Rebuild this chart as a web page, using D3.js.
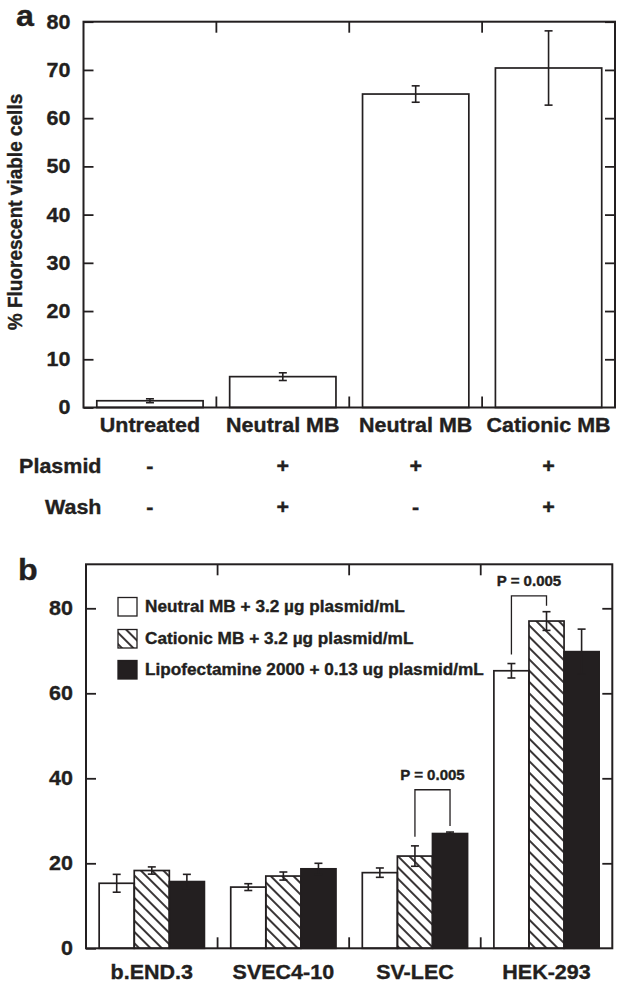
<!DOCTYPE html>
<html><head><meta charset="utf-8">
<script src="https://cdn.jsdelivr.net/npm/d3@7"></script>
<style>
html,body{margin:0;padding:0;background:#fff;}
svg{display:block;}
text{font-family:"Liberation Sans",Arial,Helvetica,sans-serif;font-weight:bold;fill:#231f20;stroke:#231f20;stroke-width:0.35px;}
</style></head>
<body>
<svg id="chart" width="624" height="988"></svg>
<script>
// ---------- Panel a data ----------
const catsA = ["Untreated", "Neutral MB", "Neutral MB", "Cationic MB"];
const valsA = [1.4, 6.4, 65.0, 70.4];
const errA = [0.4, 0.8, 1.7, 7.7];
const plasmidRow = ["-", "+", "+", "+"];
const washRow = ["-", "+", "-", "+"];
const ticksA = [0, 10, 20, 30, 40, 50, 60, 70, 80];

// ---------- Panel b data ----------
const catsB = ["b.END.3", "SVEC4-10", "SV-LEC", "HEK-293"];
const seriesB = ["Neutral MB + 3.2 \u00b5g plasmid/mL", "Cationic MB + 3.2 \u00b5g plasmid/mL", "Lipofectamine 2000 + 0.13 ug plasmid/mL"];
const neutralB = [15.3, 14.4, 17.8, 65.3];
const neutralErr = [2.1, 0.8, 1.1, 1.7];
const cationicB = [18.3, 17.0, 21.7, 77.0];
const cationicErr = [0.85, 0.95, 2.4, 2.2];
const lipoB = [15.7, 18.7, 27.0, 69.8];
const lipoErr = [1.7, 1.3, 0.35, 5.3];
const ticksB = [0, 20, 40, 60, 80];
// significance brackets: category, series pair, bracket level (value), label
const pCats = ["SV-LEC", "HEK-293"];
const pPairs = [[1, 2], [0, 1]];
const pLevels = [37.3, 82.9];
const pLabels = ["P = 0.005", "P = 0.005"];

const INK = "#231f20";
const SX = 1.075; // horizontal stretch of lettering in the reference
const svg = d3.select("#chart");

const defs = svg.append("defs");
defs.append("pattern").attr("id", "hatch").attr("patternUnits", "userSpaceOnUse")
  .attr("width", 8).attr("height", 8).attr("patternTransform", "rotate(-45)")
  .append("line").attr("x1", 4).attr("y1", -1).attr("x2", 4).attr("y2", 9)
  .attr("stroke", INK).attr("stroke-width", 1.8);

function txt(g, x, y, s, size, anchor) {
  return g.append("text")
    .attr("transform", `translate(${x},${y}) scale(${SX},1)`)
    .attr("text-anchor", anchor || "middle")
    .style("font-size", size + "px")
    .text(s);
}

function errorBar(g, x, yScale, v, e, cap, color) {
  const y1 = yScale(v + e), y0 = yScale(v - e);
  g.append("line").attr("x1", x).attr("x2", x).attr("y1", y1).attr("y2", y0)
    .attr("stroke", color || INK).attr("stroke-width", 1.6);
  [y1, y0].forEach(yy => g.append("line").attr("x1", x - cap / 2).attr("x2", x + cap / 2)
    .attr("y1", yy).attr("y2", yy).attr("stroke", color || INK).attr("stroke-width", 1.6));
}

function frameAndTicks(g, x, y, ticks) {
  const [x0, x1] = x.range();
  const [yb, yt] = y.range();
  const left = g.append("g").attr("transform", `translate(${x0},0)`)
    .call(d3.axisLeft(y).tickValues(ticks).tickSizeInner(-10).tickSizeOuter(0).tickPadding(13));
  left.select(".domain").remove();
  left.selectAll(".tick line").attr("stroke", INK).attr("stroke-width", 1.8);
  left.selectAll(".tick text").attr("fill", INK).style("font-size", "20px")
    .style("font-family", "'Liberation Sans',Arial,sans-serif").style("font-weight", "bold")
    .attr("transform", `scale(${SX},1)`).attr("x", -13 / SX);
  const right = g.append("g").attr("transform", `translate(${x1},0)`)
    .call(d3.axisRight(y).tickValues(ticks.filter(t => t > 0)).tickSizeInner(-10).tickSizeOuter(0).tickFormat(""));
  right.select(".domain").remove();
  right.selectAll(".tick line").attr("stroke", INK).attr("stroke-width", 1.8);
  const step = x.step();
  const seps = d3.range(1, x.domain().length).map(i => x0 + step * i);
  seps.forEach(sx => {
    g.append("line").attr("x1", sx).attr("x2", sx).attr("y1", yt).attr("y2", yt + 11)
      .attr("stroke", INK).attr("stroke-width", 1.8);
    g.append("line").attr("x1", sx).attr("x2", sx).attr("y1", yb).attr("y2", yb - 11)
      .attr("stroke", INK).attr("stroke-width", 1.8);
  });
  g.append("rect").attr("x", x0).attr("y", yt).attr("width", x1 - x0).attr("height", yb - yt)
    .attr("fill", "none").attr("stroke", INK).attr("stroke-width", 2);
}

// ================= Panel a =================
const gA = svg.append("g");
const xA = d3.scaleBand().domain(d3.range(catsA.length)).range([83.5, 615]).paddingInner(0.2).paddingOuter(0.1);
const yA = d3.scaleLinear().domain([0, 80]).range([407.5, 21.7]);

gA.selectAll("rect.bar").data(valsA).join("rect").attr("class", "bar")
  .attr("x", (d, i) => xA(i)).attr("width", xA.bandwidth())
  .attr("y", d => yA(d)).attr("height", d => yA(0) - yA(d))
  .attr("fill", "#fff").attr("stroke", INK).attr("stroke-width", 1.7);
valsA.forEach((v, i) => errorBar(gA, xA(i) + xA.bandwidth() / 2, yA, v, errA[i], 8));
frameAndTicks(gA, xA, yA, ticksA);

catsA.forEach((c, i) => txt(gA, xA(i) + xA.bandwidth() / 2, 432, c, 20));
txt(gA, 101.5, 472.5, "Plasmid", 20, "end");
txt(gA, 101.5, 513.5, "Wash", 20, "end");
plasmidRow.forEach((s, i) => txt(gA, xA(i) + xA.bandwidth() / 2, 472.5, s, 20));
washRow.forEach((s, i) => txt(gA, xA(i) + xA.bandwidth() / 2, 513.5, s, 20));

gA.append("text").attr("transform", `translate(21.5,212) rotate(-90) scale(1,${SX})`)
  .attr("text-anchor", "middle").style("font-size", "19px").text("% Fluorescent viable cells");
txt(gA, 16, 26, "a", 30, "start");

// ================= Panel b =================
const gB = svg.append("g");
const xB = d3.scaleBand().domain(catsB).range([86, 612.3]).paddingInner(0.2).paddingOuter(0.1);
const xSub = d3.scaleBand().domain(d3.range(3)).range([0, xB.bandwidth()]);
const yB = d3.scaleLinear().domain([0, 90.35]).range([948.3, 564.3]);
const valsB = [neutralB, cationicB, lipoB];
const errsB = [neutralErr, cationicErr, lipoErr];
const fills = ["#fff", "url(#hatch)", INK];

valsB.forEach((vals, s) => {
  gB.selectAll(`rect.s${s}`).data(vals).join("rect").attr("class", `s${s}`)
    .attr("x", (d, i) => xB(catsB[i]) + xSub(s)).attr("width", xSub.bandwidth())
    .attr("y", d => yB(d)).attr("height", d => yB(0) - yB(d))
    .attr("fill", fills[s]).attr("stroke", INK).attr("stroke-width", 1.7);
});
valsB.forEach((vals, s) => vals.forEach((v, i) =>
  errorBar(gB, xB(catsB[i]) + xSub(s) + xSub.bandwidth() / 2, yB, v, errsB[s][i], 8)));
frameAndTicks(gB, xB, yB, ticksB);

catsB.forEach(c => txt(gB, xB(c) + xB.bandwidth() / 2, 978.5, c, 20));
txt(gB, 18, 580, "b", 30, "start");

pCats.forEach((c, k) => {
  const ci = catsB.indexOf(c);
  const [a, b] = pPairs[k];
  const xa = xB(c) + xSub(a) + xSub.bandwidth() / 2;
  const xb = xB(c) + xSub(b) + xSub.bandwidth() / 2;
  const ya = yB(valsB[a][ci] + errsB[a][ci]) - 9;
  const yb = yB(valsB[b][ci] + errsB[b][ci]) - 6;
  const yl = yB(pLevels[k]);
  gB.append("path").attr("d", `M${xa},${ya}V${yl}H${xb}V${yb}`)
    .attr("fill", "none").attr("stroke", INK).attr("stroke-width", 1.3);
  txt(gB, (xa + xb) / 2, yl - 9.5, pLabels[k], 14);
});

const legY = [597.5, 629.5, 660.5];
seriesB.forEach((s, i) => {
  gB.append("rect").attr("x", 118).attr("y", legY[i]).attr("width", 19).attr("height", 18.5)
    .attr("fill", fills[i]).attr("stroke", INK).attr("stroke-width", 1.3);
  txt(gB, 145, legY[i] + 14.5, s, 16, "start");
});
</script>
</body></html>
